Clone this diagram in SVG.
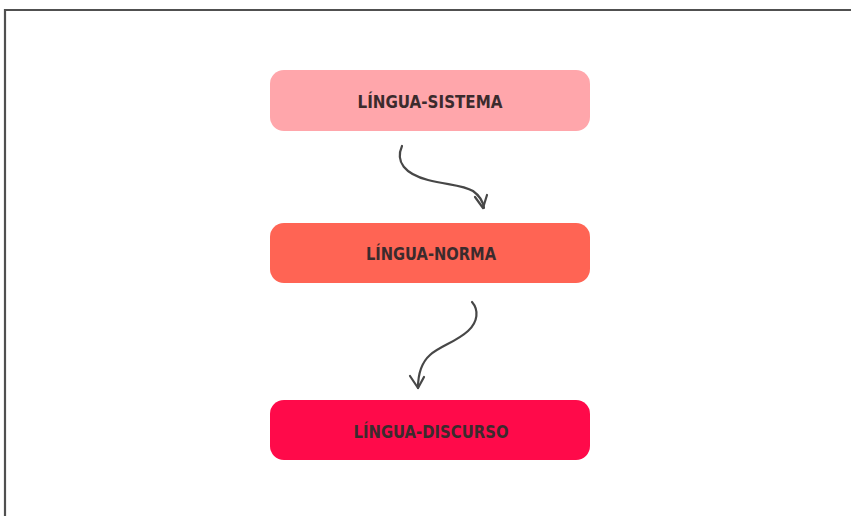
<svg xmlns="http://www.w3.org/2000/svg" width="851" height="516" viewBox="0 0 851 516">
<style>
.box{stroke:none}
.lbl{font-family:"DejaVu Sans Condensed","DejaVu Sans",sans-serif;font-weight:bold;font-size:18.5px;fill:#3b2b2d;text-anchor:middle}
.conn{fill:none;stroke:#474747;stroke-width:2.2;stroke-linecap:round;stroke-linejoin:round}
</style>
<rect x="0" y="0" width="851" height="516" fill="#ffffff"/>
<path d="M5,516 V10 H851" fill="none" stroke="#505050" stroke-width="2.2"/>
<g id="n1"><rect class="box" x="270" y="70" width="320" height="61" rx="14" fill="#ffa6ab"/><text class="lbl" x="430" y="108" textLength="145" lengthAdjust="spacingAndGlyphs">LÍNGUA-SISTEMA</text></g>
<g id="n2"><rect class="box" x="270" y="223" width="320" height="60" rx="14" fill="#ff6454"/><text class="lbl" x="431" y="260" textLength="130" lengthAdjust="spacingAndGlyphs">LÍNGUA-NORMA</text></g>
<g id="n3"><rect class="box" x="270" y="400" width="320" height="60" rx="14" fill="#ff0a4a"/><text class="lbl" x="431" y="438" textLength="155" lengthAdjust="spacingAndGlyphs">LÍNGUA-DISCURSO</text></g>
<g id="connectors">
<path class="conn" d="M402,146 C395,162 405,174 428,180 C448,185 463,185 473,191 C480,196 483,201 484,208"/>
<path class="conn" d="M475,197 L483,208 L487,195"/>
<path class="conn" d="M472,302 C479,310 478,322 468,331 C456,342 440,346 430,355 C421,363 418,374 418,388"/>
<path class="conn" d="M410,376 L418,388 L424,377"/>
</g>
</svg>
